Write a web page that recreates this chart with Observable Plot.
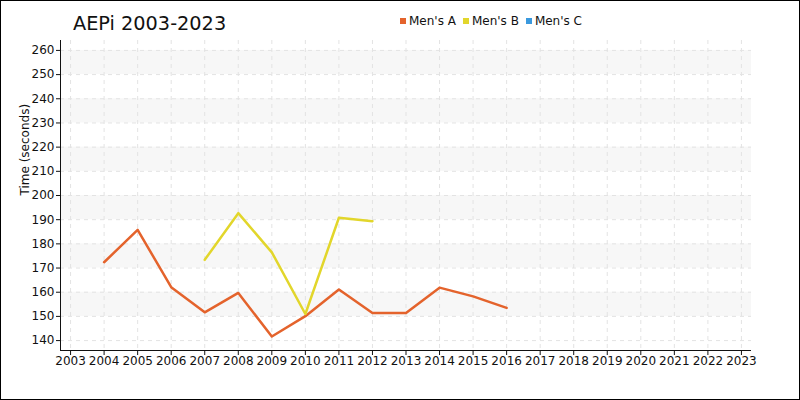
<!DOCTYPE html>
<html>
<head>
<meta charset="utf-8">
<script src="https://cdn.jsdelivr.net/npm/d3@7"></script>
<script src="https://cdn.jsdelivr.net/npm/@observablehq/plot@0.6"></script>
<style>
  html, body { margin: 0; padding: 0; background: #fff; }
  #wrap { position: relative; width: 800px; height: 400px; font-family: "DejaVu Sans", Verdana, sans-serif; }
  #frame { position: absolute; left: 0; top: 0; width: 800px; height: 400px; box-sizing: border-box; border: 1px solid #000; pointer-events: none; }
  #title { position: absolute; left: 73px; top: 12px; font-size: 19.3px; color: #111; white-space: nowrap; }
  #legend { position: absolute; left: 400px; top: 14px; font-size: 12px; color: #111; display: flex; gap: 7px; white-space: nowrap; }
  #legend span.sw { display: inline-block; width: 6px; height: 6px; margin-right: 3px; vertical-align: 1px; }
  #chart { position: absolute; left: 0; top: 0; }
</style>
</head>
<body>
<div id="wrap">
  <div id="chart"></div>
  <div id="title">AEPi 2003-2023</div>
  <div id="legend"></div>
  <div id="frame"></div>
</div>
<script>
const years = [2003,2004,2005,2006,2007,2008,2009,2010,2011,2012,2013,2014,2015,2016,2017,2018,2019,2020,2021,2022,2023];
const mensA = [null,172.4,185.8,162.1,151.7,159.7,141.7,150.1,161.1,151.4,151.4,161.9,158.3,153.5,null,null,null,null,null,null,null];
const mensB = [null,null,null,null,173.4,192.7,176.5,151.0,190.8,189.4,null,null,null,null,null,null,null,null,null,null,null];
const mensC = [null,null,null,null,null,null,null,null,null,null,null,null,null,null,null,null,null,null,null,null,null];
const seriesNames = ["Men's A","Men's B","Men's C"];
const seriesColors = ["#e4632c","#e2d62b","#3a99de"];
const yTicks = [140,150,160,170,180,190,200,210,220,230,240,250,260];
const bandStarts = [150,170,190,210,230,250];
const xDomain = [2002.7, 2023.3];
const yDomain = [135.9, 264.1];
const yLabel = "Time (seconds)";

const seriesValues = [mensA, mensB, mensC];
const rows = [];
seriesNames.forEach((name, i) => {
  years.forEach((yr, j) => rows.push({series: name, year: yr, time: seriesValues[i][j]}));
});

const chart = Plot.plot({
  width: 800,
  height: 400,
  marginLeft: 60,
  marginRight: 49,
  marginTop: 40,
  marginBottom: 50,
  style: {fontFamily: "DejaVu Sans, Verdana, sans-serif", fontSize: "12px", color: "#111", background: "transparent"},
  x: {domain: xDomain, ticks: years, tickFormat: d => String(d)},
  y: {domain: yDomain, ticks: yTicks},
  color: {domain: seriesNames, range: seriesColors},
  marks: [
    Plot.rect(bandStarts, {y1: d => d, y2: d => d + 10, fill: "#f7f7f7"}),
    Plot.gridX(years, {stroke: "#e3e3e3", strokeOpacity: 1, strokeDasharray: "4,4"}),
    Plot.gridY(yTicks, {stroke: "#e3e3e3", strokeOpacity: 1, strokeDasharray: "4,4"}),
    Plot.ruleX([xDomain[0]], {stroke: "#111"}),
    Plot.ruleY([yDomain[0]], {stroke: "#111"}),
    Plot.axisX(years, {tickSize: 5, tickPadding: 1, label: null, tickFormat: d => String(d)}),
    Plot.axisY(yTicks, {tickSize: 4, tickPadding: 2, label: null}),
    Plot.text([yLabel], {frameAnchor: "left", rotate: -90, dx: -35, text: d => d, fontSize: 12, fill: "#111"}),
    Plot.line(rows, {x: "year", y: "time", z: "series", stroke: "series", strokeWidth: 2.5, defined: d => d.time != null})
  ]
});
document.getElementById("chart").appendChild(chart);

const legend = document.getElementById("legend");
seriesNames.forEach((n, i) => {
  const item = document.createElement("span");
  const sw = document.createElement("span");
  sw.className = "sw";
  sw.style.background = seriesColors[i];
  item.appendChild(sw);
  item.appendChild(document.createTextNode(n));
  legend.appendChild(item);
});
</script>
</body>
</html>
